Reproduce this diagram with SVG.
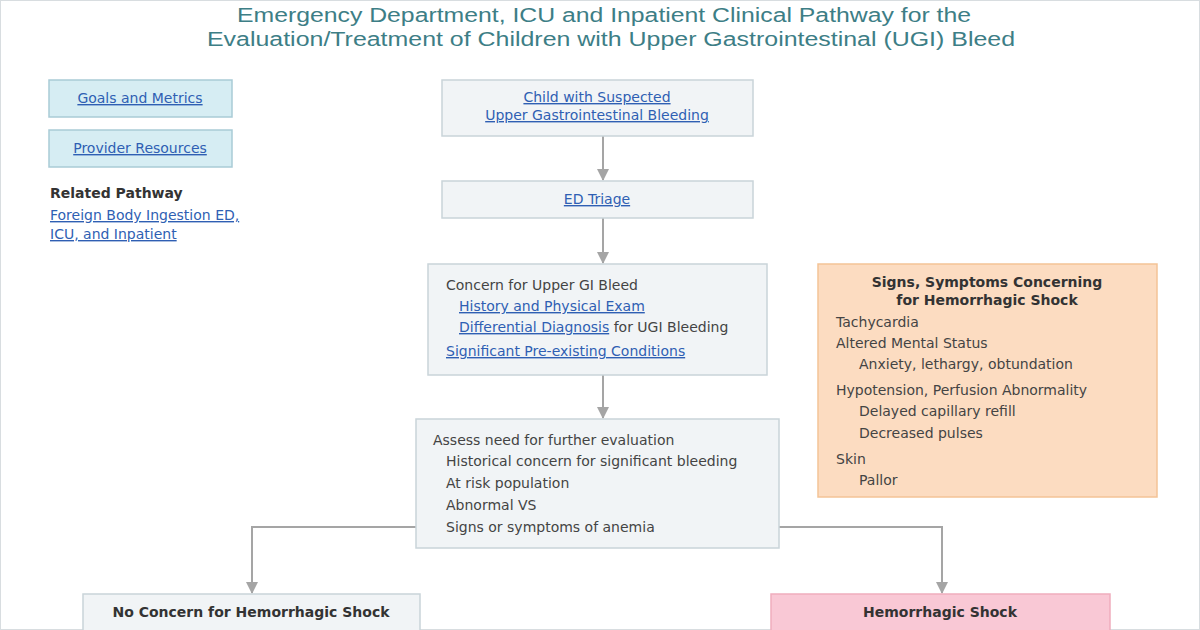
<svg xmlns="http://www.w3.org/2000/svg" width="1200" height="630" viewBox="0 0 1200 630">
<style>
.t{font-family:"DejaVu Sans",Verdana,sans-serif;font-size:14px;fill:#444}
.b{font-weight:bold;fill:#333}
.l{fill:#2f5fb3;text-decoration:underline}
.c{text-anchor:middle}
.title{font-family:"Liberation Sans",Arial,sans-serif;font-size:20px;fill:#3d7e86;text-anchor:middle}
.g{fill:#f1f4f6;stroke:#c9d4d9;stroke-width:1.5}
.bl{fill:#d6edf3;stroke:#a9cbd6;stroke-width:1.5}
.or{fill:#fcdcc1;stroke:#f4c396;stroke-width:1.5}
.pk{fill:#f9c8d5;stroke:#efadbd;stroke-width:1.5}
.cn{fill:none;stroke:#a5a5a5;stroke-width:2}
</style>
<defs>
<marker id="ah2" markerWidth="12" markerHeight="12" refX="11" refY="6" orient="auto" markerUnits="userSpaceOnUse" viewBox="0 0 12 12"><path d="M0,0 L12,6 L0,12 Z" fill="#a5a5a5"/></marker>
</defs>
<rect x="0.5" y="0.5" width="1199" height="629" fill="#fff" stroke="#d8dde0"/>
<g id="title">
<text class="title" x="604" y="22" textLength="734" lengthAdjust="spacingAndGlyphs">Emergency Department, ICU and Inpatient Clinical Pathway for the</text>
<text class="title" x="611" y="46" textLength="808" lengthAdjust="spacingAndGlyphs">Evaluation/Treatment of Children with Upper Gastrointestinal (UGI) Bleed</text>
</g>
<g id="connectors">
<path class="cn" d="M603,136 V180" marker-end="url(#ah2)"/>
<path class="cn" d="M603,218 V263" marker-end="url(#ah2)"/>
<path class="cn" d="M603,375 V418" marker-end="url(#ah2)"/>
<path class="cn" d="M416,527 H252 V593" marker-end="url(#ah2)"/>
<path class="cn" d="M779,527 H942 V593" marker-end="url(#ah2)"/>
</g>
<g id="goals">
<rect class="bl" x="49" y="80" width="183" height="37"/>
<text class="t l c" x="140" y="103">Goals and Metrics</text>
</g>
<g id="provider">
<rect class="bl" x="49" y="130" width="183" height="37"/>
<text class="t l c" x="140" y="153">Provider Resources</text>
</g>
<g id="related">
<text class="t b" x="50" y="198">Related Pathway</text>
<text class="t l" x="50" y="220">Foreign Body Ingestion ED,</text>
<text class="t l" x="50" y="239">ICU, and Inpatient</text>
</g>
<g id="child">
<rect class="g" x="442" y="80" width="311" height="56"/>
<text class="t l c" x="597" y="102">Child with Suspected</text>
<text class="t l c" x="597" y="120">Upper Gastrointestinal Bleeding</text>
</g>
<g id="triage">
<rect class="g" x="442" y="181" width="311" height="37"/>
<text class="t l c" x="597" y="204">ED Triage</text>
</g>
<g id="concern">
<rect class="g" x="428" y="264" width="339" height="111"/>
<text class="t" x="446" y="290">Concern for Upper GI Bleed</text>
<text class="t l" x="459" y="311">History and Physical Exam</text>
<text class="t" x="459" y="332"><tspan class="l">Differential Diagnosis</tspan> for UGI Bleeding</text>
<text class="t l" x="446" y="356">Significant Pre-existing Conditions</text>
</g>
<g id="assess">
<rect class="g" x="416" y="419" width="363" height="129"/>
<text class="t" x="433" y="445">Assess need for further evaluation</text>
<text class="t" x="446" y="466">Historical concern for significant bleeding</text>
<text class="t" x="446" y="488">At risk population</text>
<text class="t" x="446" y="510">Abnormal VS</text>
<text class="t" x="446" y="532">Signs or symptoms of anemia</text>
</g>
<g id="signs">
<rect class="or" x="818" y="264" width="339" height="233"/>
<text class="t b c" x="987" y="287">Signs, Symptoms Concerning</text>
<text class="t b c" x="987" y="305">for Hemorrhagic Shock</text>
<text class="t" x="836" y="327">Tachycardia</text>
<text class="t" x="836" y="348">Altered Mental Status</text>
<text class="t" x="859" y="369">Anxiety, lethargy, obtundation</text>
<text class="t" x="836" y="395">Hypotension, Perfusion Abnormality</text>
<text class="t" x="859" y="416">Delayed capillary refill</text>
<text class="t" x="859" y="438">Decreased pulses</text>
<text class="t" x="836" y="464">Skin</text>
<text class="t" x="859" y="485">Pallor</text>
</g>
<g id="noconcern">
<rect class="g" x="83" y="594" width="337" height="40"/>
<text class="t b c" x="251" y="617">No Concern for Hemorrhagic Shock</text>
</g>
<g id="shock">
<rect class="pk" x="771" y="594" width="339" height="40"/>
<text class="t b c" x="940" y="617">Hemorrhagic Shock</text>
</g>
</svg>
